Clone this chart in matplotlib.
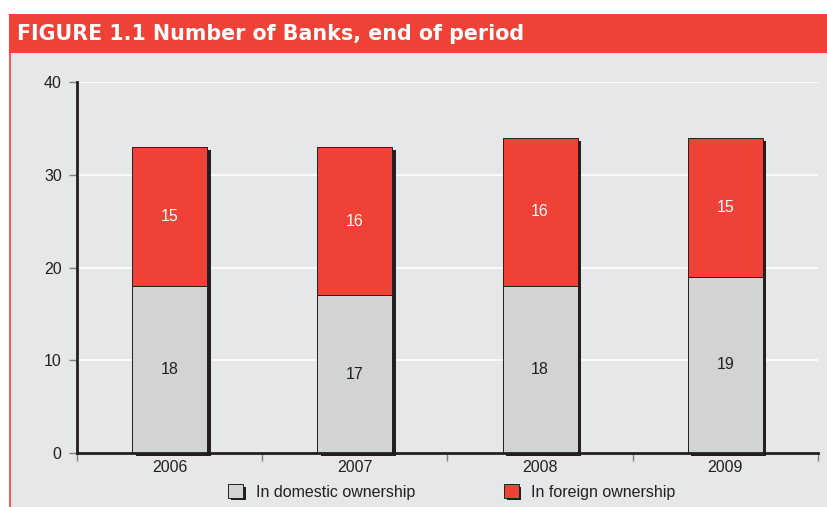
import matplotlib
matplotlib.use("Agg")
import matplotlib.pyplot as plt
import matplotlib.patches as mpatches
import matplotlib.patheffects as pe
import matplotlib.transforms as mtransforms
import numpy as np

plt.rcParams['font.family'] = ['Liberation Sans', 'DejaVu Sans']

years = ["2006", "2007", "2008", "2009"]
domestic = [18, 17, 18, 19]
foreign = [15, 16, 16, 15]

RED = "#ef4136"
GREY_BAR = "#d1d3d4"
BG = "#e6e7e8"
DARK = "#231f20"
TEXT = "#231f20"

fig = plt.figure(figsize=(8.28, 5.07), dpi=100)
fig.patch.set_facecolor("white")

# grey panel and red header strip
fig.patches.append(mpatches.Rectangle((10 / 828, 0), 818 / 828, 1 - 53 / 507,
                                      transform=fig.transFigure, facecolor=BG,
                                      edgecolor="none", zorder=-2))
fig.patches.append(mpatches.Rectangle((9 / 828, 1 - 53 / 507), 819 / 828, 39 / 507,
                                      transform=fig.transFigure, facecolor=RED,
                                      edgecolor="none", zorder=-2))
fig.lines.append(plt.Line2D([10 / 828, 10 / 828], [0, 1 - 53 / 507],
                            transform=fig.transFigure, color=RED, lw=1.2, zorder=-1))
fig.text(17 / 828, 1 - 34 / 507, "FIGURE 1.1 Number of Banks, end of period",
         color="white", fontsize=14.9, fontweight="bold", va="center", ha="left",
         family="DejaVu Sans")

ax = fig.add_axes([77 / 828, 1 - 453 / 507, 741 / 828, 371 / 507])
ax.set_zorder(2)
ax.set_facecolor(BG)

x = np.arange(len(years))
width = 0.405
dom = np.array(domestic)
fgn = np.array(foreign)
total = dom + fgn

# drop shadow behind each full stack
shadow_tr = ax.transData + mtransforms.ScaledTranslation(3.5 / 100, -3 / 100, fig.dpi_scale_trans)
for xi, t in zip(x, total):
    ax.add_patch(mpatches.Rectangle((xi - width / 2, 0), width, t, facecolor=DARK,
                                    edgecolor="none", transform=shadow_tr,
                                    clip_on=False, zorder=2))

ax.bar(x, dom, width, color=GREY_BAR, edgecolor=DARK, linewidth=0.7, zorder=3)
ax.bar(x, fgn, width, bottom=dom, color=RED, edgecolor=DARK, linewidth=0.7, zorder=3)

for xi, d, f in zip(x, dom, fgn):
    ax.text(xi, d / 2, str(d), ha="center", va="center", fontsize=11.5, color=TEXT, zorder=4)
    ax.text(xi, d + f / 2, str(f), ha="center", va="center", fontsize=11.5, color="white", zorder=4)

ax.set_xlim(-0.5, 3.5)
ax.set_ylim(0, 40)
ax.set_yticks([0, 10, 20, 30, 40])
ax.yaxis.grid(True, color="white", linewidth=1.2)
ax.set_axisbelow(True)

ax.set_xticks(x)
ax.set_xticklabels(years, fontsize=11.5, color=TEXT)
ax.set_xticks(np.arange(-0.5, 4, 1), minor=True)
ax.tick_params(axis="x", which="major", length=0, pad=5)
ax.tick_params(axis="x", which="minor", length=6, color="#808080", width=1)
ax.tick_params(axis="y", length=6, color="#808080", width=1, labelsize=11.5,
               labelcolor=TEXT, pad=5)

for side in ["top", "right"]:
    ax.spines[side].set_visible(False)
for side in ["left", "bottom"]:
    ax.spines[side].set_linewidth(2)
    ax.spines[side].set_color(DARK)
    ax.spines[side].set_zorder(5)

shadow = [pe.SimplePatchShadow(offset=(2, -2), shadow_rgbFace=DARK, alpha=1), pe.Normal()]
handles = [
    mpatches.Patch(facecolor=GREY_BAR, edgecolor=DARK, linewidth=0.7,
                   label="In domestic ownership", path_effects=shadow),
    mpatches.Patch(facecolor=RED, edgecolor=DARK, linewidth=0.7,
                   label="In foreign ownership", path_effects=shadow),
]
fig.legend(handles=handles, loc="center", bbox_to_anchor=(452 / 828, 1 - 492 / 507),
           ncol=2, frameon=False, fontsize=11.5, handlelength=0.9, handleheight=0.9,
           handletextpad=0.8, columnspacing=5.6, labelcolor=TEXT)

fig.savefig("out.png", dpi=100, facecolor=fig.get_facecolor())
